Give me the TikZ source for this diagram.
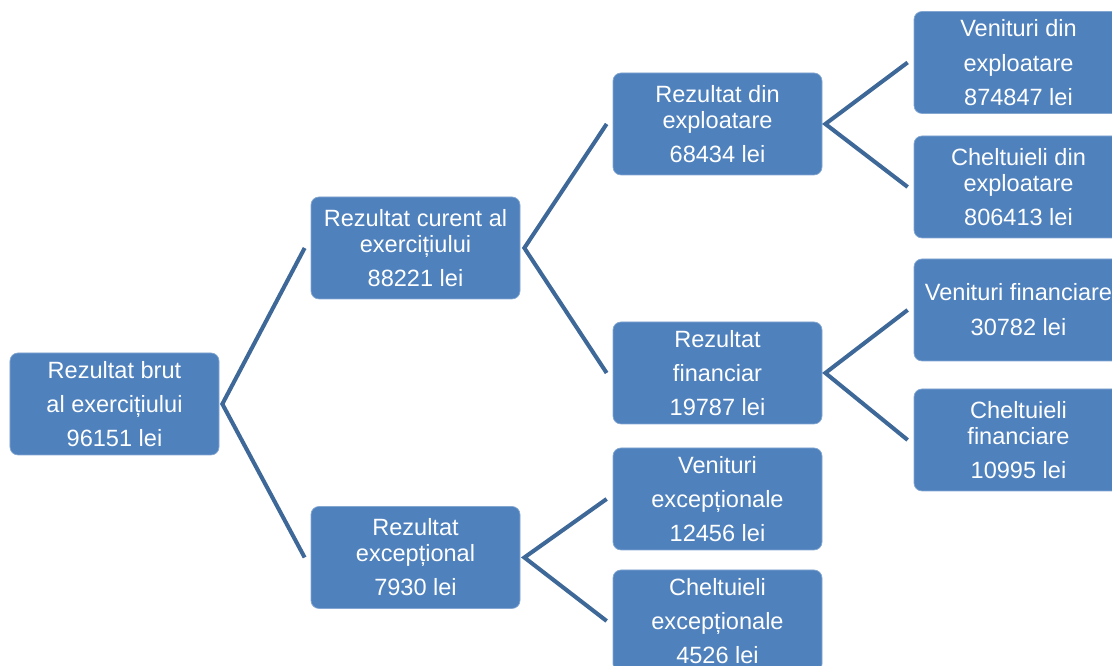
\documentclass[tikz,border=0pt]{standalone}
\usepackage{fontspec}
\setmainfont{Liberation Sans}
\definecolor{boxblue}{RGB}{79,129,189}
\definecolor{lineblue}{RGB}{62,104,152}
\usetikzlibrary{calc}

\begin{document}
\begin{tikzpicture}[
    res/.style={draw=boxblue!70!white,line width=0.4pt,fill=boxblue,text=white,
        rounded corners=0.16cm,minimum width=4.18cm,minimum height=2.04cm,
        inner sep=0pt,align=center,font=\fontsize{13.4}{14.8}\selectfont},
    conn/.style={lineblue,line width=2.3pt,line join=miter}]
  \clip (0,0) rectangle (22.24,13.32);
  \node[res] (b1) at (2.29,5.24) {Rezultat brut\\[0.16cm] al exercițiului\\[0.16cm] 96151 lei};
  \node[res] (b2) at (8.31,8.36) {Rezultat curent al\\ exercițiului\\[0.16cm] 88221 lei};
  \node[res] (b3) at (8.31,2.17) {Rezultat\\ excepțional\\[0.16cm] 7930 lei};
  \node[res] (b4) at (14.35,10.84) {Rezultat din\\ exploatare\\[0.16cm] 68434 lei};
  \node[res] (b5) at (14.35,5.86) {Rezultat\\[0.16cm] financiar\\[0.16cm] 19787 lei};
  \node[res] (b6) at (14.35,3.34) {Venituri\\[0.16cm] excepționale\\[0.16cm] 12456 lei};
  \node[res] (b7) at (14.35,0.90) {Cheltuieli\\[0.16cm] excepționale\\[0.16cm] 4526 lei};
  \node[res] (b8) at (20.37,12.07) {Venituri din\\[0.18cm] exploatare\\[0.16cm] 874847 lei};
  \node[res] (b9) at (20.37,9.58) {Cheltuieli din\\ exploatare\\[0.16cm] 806413 lei};
  \node[res] (b10) at (20.37,7.12) {Venituri financiare\\[0.18cm] 30782 lei};
  \node[res] (b11) at (20.37,4.52) {Cheltuieli\\ financiare\\[0.16cm] 10995 lei};
  % brackets between levels
  \draw[conn] ($(b2.west)+(-0.12,0)$) -- ($(b1.east)+(0.06,0)$) -- ($(b3.west)+(-0.12,0)$);
  \draw[conn] ($(b4.west)+(-0.12,0)$) -- ($(b2.east)+(0.08,0)$) -- ($(b5.west)+(-0.12,0)$);
  \draw[conn] ($(b6.west)+(-0.12,0)$) -- ($(b3.east)+(0.08,0)$) -- ($(b7.west)+(-0.12,0)$);
  \draw[conn] ($(b8.west)+(-0.12,0)$) -- ($(b4.east)+(0.06,0)$) -- ($(b9.west)+(-0.12,0)$);
  \draw[conn] ($(b10.west)+(-0.12,0)$) -- ($(b5.east)+(0.06,0)$) -- ($(b11.west)+(-0.12,0)$);
\end{tikzpicture}
\end{document}
